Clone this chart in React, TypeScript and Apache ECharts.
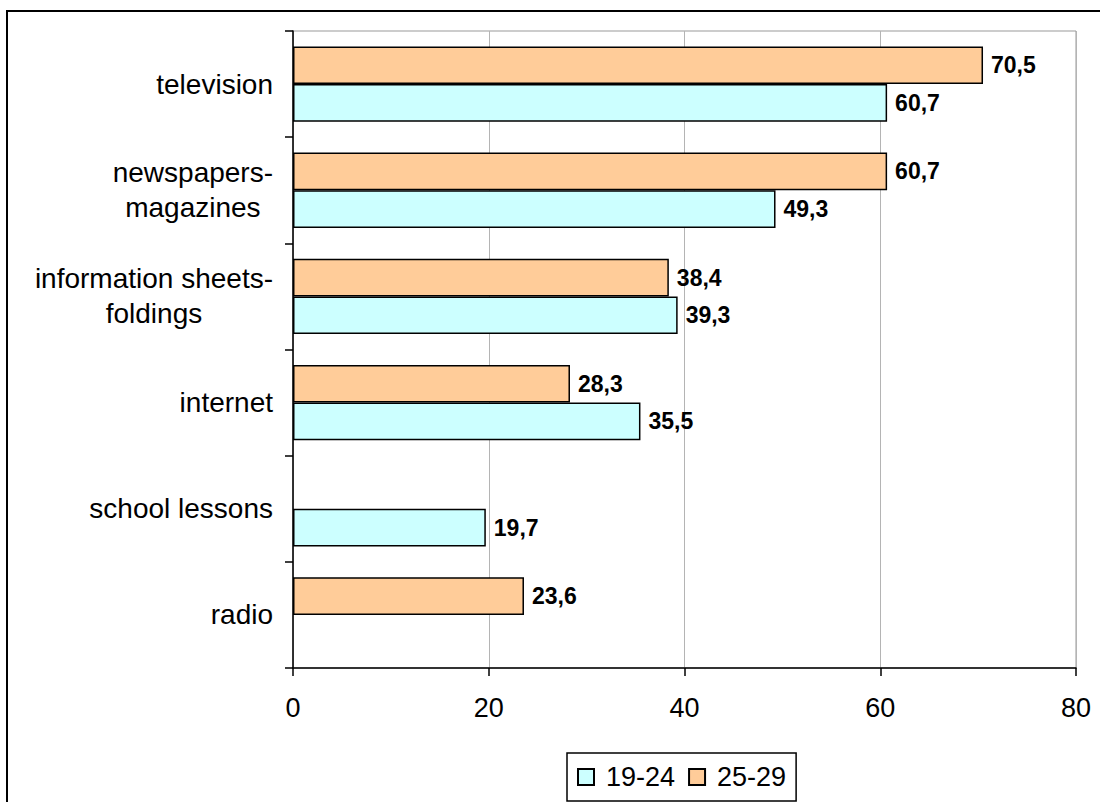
import React, { useEffect, useRef } from "react";
import * as echarts from "echarts";

const categories = [
  "television",
  "newspapers-\nmagazines",
  "information sheets-\nfoldings",
  "internet",
  "school lessons",
  "radio",
];
const age1924 = [60.7, 49.3, 39.3, 35.5, 19.7, null];
const age2529 = [70.5, 60.7, 38.4, 28.3, null, 23.6];
const seriesNames = ["19-24", "25-29"];
const xTicks = { min: 0, max: 80, interval: 20 };

const FONT = "'Liberation Sans', Arial, sans-serif";

export default function App() {
  const ref = useRef<HTMLDivElement>(null);
  useEffect(() => {
    if (!ref.current) return;
    const chart = echarts.init(ref.current, null, { renderer: "svg" });
    const labelFmt = (p: any) => String(p.value).replace(".", ",");
    chart.setOption({
      animation: false,
      backgroundColor: "#fff",
      textStyle: { fontFamily: FONT, color: "#000" },
      graphic: [
        {
          type: "rect",
          shape: { x: 7, y: 11, width: 1200, height: 900 },
          style: { fill: "none", stroke: "#000", lineWidth: 2 },
          silent: true,
        },
      ],
      grid: {
        left: 293,
        top: 31,
        right: 24,
        bottom: 134,
        show: true,
        borderColor: "#999",
        borderWidth: 1,
        containLabel: false,
      },
      legend: {
        data: seriesNames,
        left: 567,
        top: 753,
        orient: "horizontal",
        icon: "rect",
        itemWidth: 16,
        itemHeight: 16,
        itemGap: 13,
        padding: [8, 10, 8, 10],
        borderColor: "#000",
        borderWidth: 1.5,
        textStyle: {
          fontSize: 27,
          fontFamily: FONT,
          color: "#000",
          lineHeight: 32,
          padding: [0, 0, 0, 7],
        },
      },
      xAxis: {
        type: "value",
        min: xTicks.min,
        max: xTicks.max,
        interval: xTicks.interval,
        axisLine: { show: true, lineStyle: { color: "#000", width: 1.5 } },
        axisTick: { show: true, length: 8, lineStyle: { color: "#000", width: 1.5 } },
        axisLabel: { fontSize: 27, fontFamily: FONT, color: "#000", margin: 26 },
        splitLine: { show: true, lineStyle: { color: "#b4b4b4", width: 1 } },
      },
      yAxis: {
        type: "category",
        inverse: true,
        data: categories,
        axisLine: { show: true, lineStyle: { color: "#000", width: 1.5 } },
        axisTick: { show: true, length: 8, lineStyle: { color: "#000", width: 1.5 } },
        axisLabel: {
          fontSize: 28,
          fontFamily: FONT,
          color: "#000",
          margin: 20,
          lineHeight: 35,
          formatter: (v: string) =>
            v.indexOf("\n") >= 0
              ? v
                  .split("\n")
                  .map((l) => `{c|${l}}`)
                  .join("\n")
              : v,
          rich: {
            c: {
              align: "center",
              fontSize: 28,
              fontFamily: FONT,
              color: "#000",
              lineHeight: 35,
            },
          },
        },
        splitLine: { show: false },
      },
      series: [
        {
          name: "25-29",
          type: "bar",
          data: age2529,
          barGap: "0%",
          barCategoryGap: "29%",
          itemStyle: { color: "#FFCC99", borderColor: "#000", borderWidth: 1.5 },
          label: {
            show: true,
            position: "right",
            distance: 8,
            formatter: labelFmt,
            fontSize: 23,
            fontWeight: "bold",
            fontFamily: FONT,
            color: "#000",
          },
        },
        {
          name: "19-24",
          type: "bar",
          data: age1924,
          barGap: "0%",
          barCategoryGap: "29%",
          itemStyle: { color: "#CCFFFF", borderColor: "#000", borderWidth: 1.5 },
          label: {
            show: true,
            position: "right",
            distance: 8,
            formatter: labelFmt,
            fontSize: 23,
            fontWeight: "bold",
            fontFamily: FONT,
            color: "#000",
          },
        },
      ],
    });
    return () => chart.dispose();
  }, []);
  return (
    <div
      ref={ref}
      style={{ position: "fixed", left: 0, top: 0, width: 1100, height: 802 }}
    />
  );
}
